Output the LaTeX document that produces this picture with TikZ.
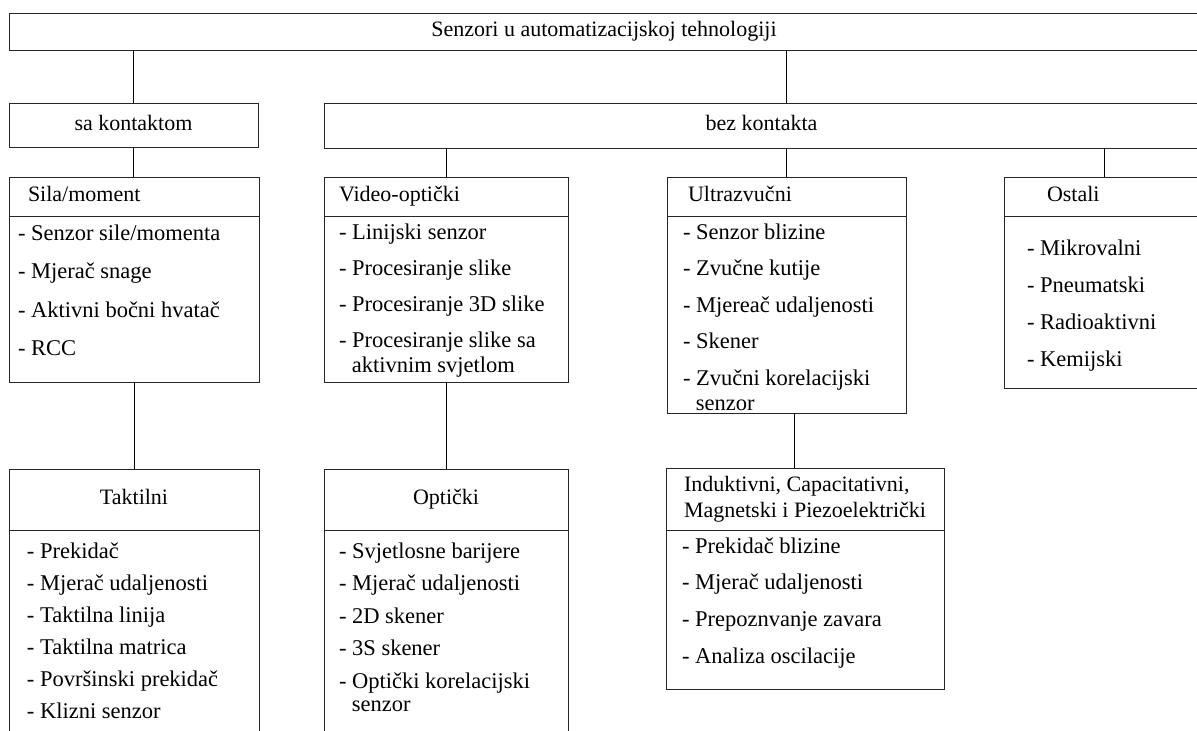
\documentclass[tikz,border=0pt]{standalone}
\usepackage{fontspec}
\setmainfont{LiberationSerif}[Extension=.ttf,UprightFont=*-Regular,BoldFont=*-Bold,ItalicFont=*-Italic,BoldItalicFont=*-BoldItalic]
\usetikzlibrary{positioning}

\begin{document}
\begin{tikzpicture}
	[x=1pt,y=-1pt,line width=1pt,
	every node/.style={font=\rmfamily\fontsize{22}{25}\selectfont},
	kutija/.style={draw=black!85,rectangle,inner sep=0pt,outer sep=0pt,anchor=north west},
	lista/.style={inner sep=0pt,outer sep=0pt,align=left,font=\rmfamily\fontsize{22.5}{25}\selectfont}]
	\useasboundingbox (0,0) rectangle (1197,731);
	\clip (0,0) rectangle (1197,731);
	% gornji red
	\node (vrh) [kutija,minimum width=1190pt,minimum height=37pt] at (9,13) {\strut Senzori u automatizacijskoj tehnologiji};
	\node (saK) [kutija,minimum width=249pt,minimum height=44pt] at (9,103) {\strut sa kontaktom};
	\node (bezK) [kutija,minimum width=875pt,minimum height=45pt] at (324,103) {\strut bez kontakta};
	% grupe senzora
	\node (silaH) [kutija,minimum width=250pt,minimum height=39pt,text width=212pt,inner xsep=19pt,align=left] at (9,177) {\strut Sila/moment};
	\node (silaB) [kutija,anchor=north,minimum width=250pt,minimum height=166pt,below=0pt of silaH] {};
	\node (videoH) [kutija,minimum width=244pt,minimum height=39pt,text width=214pt,inner xsep=15pt,align=left] at (324,177) {\strut Video-optički};
	\node (videoB) [kutija,anchor=north,minimum width=244pt,minimum height=166pt,below=0pt of videoH] {};
	\node (ultraH) [kutija,minimum width=239pt,minimum height=39pt,text width=197pt,inner xsep=21pt,align=left] at (667,177) {\strut Ultrazvučni};
	\node (ultraB) [kutija,anchor=north,minimum width=239pt,minimum height=197pt,below=0pt of ultraH] {};
	\node (ostaliH) [kutija,minimum width=200pt,minimum height=39pt,text width=114pt,inner xsep=43pt,align=left] at (1004,177) {\strut Ostali};
	\node (ostaliB) [kutija,anchor=north,minimum width=200pt,minimum height=172pt,below=0pt of ostaliH] {};
	\node (taktilH) [kutija,minimum width=250pt,minimum height=61pt] at (9,469) {\strut Taktilni};
	\node (taktilB) [kutija,anchor=north,minimum width=250pt,minimum height=215pt,below=0pt of taktilH] {};
	\node (optH) [kutija,minimum width=244pt,minimum height=61pt] at (324,469) {\strut Optički};
	\node (optB) [kutija,anchor=north,minimum width=244pt,minimum height=215pt,below=0pt of optH] {};
	\node (indukH) [kutija,minimum width=278pt,minimum height=62pt,align=left] at (666,468) {Induktivni, Capacitativni,\\[1pt] Magnetski i Piezoelektrički};
	\node (indukB) [kutija,anchor=north,minimum width=278pt,minimum height=159pt,below=0pt of indukH] {};
	% popisi
	\node (silaL) [lista,below right=6.5pt and 9pt of silaH.south west] {\strut- Senzor sile/momenta\\[13.5pt] - Mjerač snage\\[13.5pt] - Aktivni bočni hvatač\\[13.5pt] - RCC};
	\node (videoL) [lista,below right=5.5pt and 15pt of videoH.south west] {\strut- Linijski senzor\\[11.3pt] - Procesiranje slike\\[11.3pt] - Procesiranje 3D slike\\[11.3pt] - Procesiranje slike sa\\ \hspace*{12.8pt}aktivnim svjetlom};
	\node (ultraL) [lista,below right=5.5pt and 16pt of ultraH.south west] {\strut- Senzor blizine\\[11.5pt] - Zvučne kutije\\[11.5pt] - Mjereač udaljenosti\\[11.5pt] - Skener\\[11.5pt] - Zvučni korelacijski\\ \hspace*{12.8pt}senzor};
	\node (ostaliL) [lista,below right=21.5pt and 23pt of ostaliH.south west] {\strut- Mikrovalni\\[12pt] - Pneumatski\\[12pt] - Radioaktivni\\[12pt] - Kemijski};
	\node (taktilL) [lista,below right=10.5pt and 18pt of taktilH.south west] {\strut- Prekidač\\[7pt] - Mjerač udaljenosti\\[7pt] - Taktilna linija\\[7pt] - Taktilna matrica\\[7pt] - Površinski prekidač\\[7pt] - Klizni senzor};
	\node (optL) [lista,below right=10.5pt and 15pt of optH.south west] {\strut- Svjetlosne barijere\\[7.5pt] - Mjerač udaljenosti\\[7.5pt] - 2D skener\\[7.5pt] - 3S skener\\[7.5pt] - Optički korelacijski\\[-2pt] \hspace*{12.8pt}senzor};
	\node (indukL) [lista,below right=5.5pt and 16pt of indukH.south west] {\strut- Prekidač blizine\\[11.7pt] - Mjerač udaljenosti\\[11.7pt] - Prepoznvanje zavara\\[11.7pt] - Analiza oscilacije};
	% veze
	\draw (vrh.south -| saK.north) -- (saK.north);
	\draw (vrh.south -| ultraH.north) -- (bezK.north -| ultraH.north);
	\draw (saK.south) -- (saK.south |- silaH.north);
	\draw (bezK.south -| videoH.north) -- (videoH.north);
	\draw (bezK.south -| ultraH.north) -- (ultraH.north);
	\draw (bezK.south -| ostaliH.north) -- (ostaliH.north);
	\draw (silaB.south) -- (taktilH.north);
	\draw (videoB.south) -- (optH.north);
	\draw ([xshift=8pt]ultraB.south) -- ([xshift=8pt]ultraB.south |- indukH.north);
\end{tikzpicture}
\end{document}
